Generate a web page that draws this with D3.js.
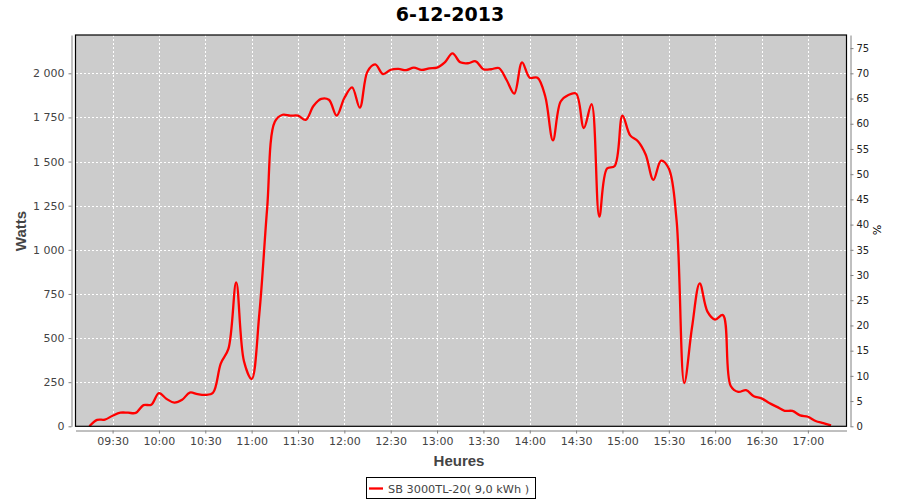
<!DOCTYPE html>
<html>
<head>
<meta charset="utf-8">
<script src="https://cdn.jsdelivr.net/npm/d3@7/dist/d3.min.js"></script>
<style>
  body { margin: 0; background: #ffffff; }
  svg { display: block; }
</style>
</head>
<body>
<svg id="chart" width="900" height="500"></svg>
<script>
// ---- data ----
const chartTitle = "6-12-2013";
const seriesName = "SB 3000TL-20( 9,0 kWh )";
const times = ["09:15","09:20","09:25","09:30","09:35","09:40","09:45","09:50","09:55",
  "10:00","10:05","10:10","10:15","10:20","10:25","10:30","10:35","10:40","10:45","10:50","10:55",
  "11:00","11:05","11:10","11:15","11:20","11:25","11:30","11:35","11:40","11:45","11:50","11:55",
  "12:00","12:05","12:10","12:15","12:20","12:25","12:30","12:35","12:40","12:45","12:50","12:55",
  "13:00","13:05","13:10","13:15","13:20","13:25","13:30","13:35","13:40","13:45","13:50","13:55",
  "14:00","14:05","14:10","14:15","14:20","14:25","14:30","14:35","14:40","14:45","14:50","14:55",
  "15:00","15:05","15:10","15:15","15:20","15:25","15:30","15:35","15:40","15:45","15:50","15:55",
  "16:00","16:05","16:10","16:15","16:20","16:25","16:30","16:35","16:40","16:45","16:50","16:55",
  "17:00","17:05","17:10","17:15"];
const watts = [0,36,38,60,77,77,76,120,122,
  188,155,134,150,191,182,178,190,355,440,815,370,
  268,640,1230,1725,1765,1760,1760,1736,1815,1855,1850,1760,
  1860,1920,1805,2010,2050,1996,2020,2025,2018,2032,2019,2028,
  2032,2062,2113,2062,2057,2068,2023,2023,2030,1962,1885,2062,
  1975,1975,1870,1620,1840,1877,1885,1690,1825,1188,1460,1475,
  1760,1648,1615,1540,1396,1505,1460,1170,245,560,810,650,
  605,630,230,195,205,170,158,132,110,88,87,62,
  54,30,18,5];
const xTickLabels = ["09:30","10:00","10:30","11:00","11:30","12:00","12:30","13:00",
  "13:30","14:00","14:30","15:00","15:30","16:00","16:30","17:00"];
const wattTicks = [0,250,500,750,1000,1250,1500,1750,2000];
const wattTickLabels = ["0","250","500","750","1 000","1 250","1 500","1 750","2 000"];
const pctTicks = [0,5,10,15,20,25,30,35,40,45,50,55,60,65,70,75];
const xDomain = ["09:06","17:25"];
const wattMax = 2217;
const pctMax = 77.6;

// ---- helpers ----
const toMin = s => { const [h, m] = s.split(":").map(Number); return h * 60 + m; };

const svg = d3.select("#chart");
const L = 75.5, R = 846.5, T = 35, B = 426.3;

const x = d3.scaleLinear().domain(xDomain.map(toMin)).range([L, R]);
const y = d3.scaleLinear().domain([0, wattMax]).range([B, T]);
const y2 = d3.scaleLinear().domain([0, pctMax]).range([B, T]);

const tickFont = "DejaVu Sans, sans-serif";
const labelFont = "Liberation Sans, Arial, sans-serif";

// plot background
svg.append("rect").attr("x", L).attr("y", T).attr("width", R - L).attr("height", B - T)
  .attr("fill", "#cccccc");

// grid
const grid = svg.append("g").attr("stroke", "#ffffff").attr("stroke-width", 1)
  .attr("stroke-dasharray", "2,2").attr("shape-rendering", "crispEdges");
grid.selectAll("line.v").data(xTickLabels).join("line")
  .attr("x1", d => Math.round(x(toMin(d))) + 0.5).attr("x2", d => Math.round(x(toMin(d))) + 0.5)
  .attr("y1", T).attr("y2", B);
grid.selectAll("line.h").data(wattTicks.filter(d => d > 0)).join("line")
  .attr("y1", d => Math.round(y(d)) + 0.5).attr("y2", d => Math.round(y(d)) + 0.5)
  .attr("x1", L).attr("x2", R);

// series
const line = d3.line()
  .x((d, i) => x(toMin(times[i])))
  .y(d => y(d))
  .curve(d3.curveCatmullRom.alpha(0.5));
svg.append("path").datum(watts).attr("d", line)
  .attr("fill", "none").attr("stroke", "#ff0000").attr("stroke-width", 2.3)
  .attr("stroke-linejoin", "round");

// plot border
svg.append("rect").attr("x", L).attr("y", T).attr("width", R - L).attr("height", B - T)
  .attr("fill", "none").attr("stroke", "#000000").attr("stroke-width", 1.2);

// left axis
const yAxis = d3.axisLeft(y).tickValues(wattTicks)
  .tickFormat((d, i) => wattTickLabels[i]).tickSizeInner(3).tickSizeOuter(0).tickPadding(4);
const gy = svg.append("g").attr("transform", "translate(71.5,0)").call(yAxis);
// bottom axis
const xAxis = d3.axisBottom(x).tickValues(xTickLabels.map(toMin))
  .tickFormat((d, i) => xTickLabels[i]).tickSizeInner(3).tickSizeOuter(0).tickPadding(4);
const gx = svg.append("g").attr("transform", "translate(0,430.5)").call(xAxis);
// right axis
const y2Axis = d3.axisRight(y2).tickValues(pctTicks).tickFormat(d3.format("d"))
  .tickSizeInner(3).tickSizeOuter(0).tickPadding(3);
const gy2 = svg.append("g").attr("transform", "translate(850.5,0)").call(y2Axis);

[gy, gx, gy2].forEach(g => {
  g.select(".domain").attr("stroke", "#808080");
  g.selectAll(".tick line").attr("stroke", "#808080");
  g.selectAll(".tick text").attr("fill", "#444444")
    .style("font-family", tickFont).style("font-size", "11px");
});
gy2.selectAll(".tick text").style("font-size", "10px").attr("fill", "#222222");

// title
svg.append("text").attr("x", 450).attr("y", 21).attr("text-anchor", "middle")
  .style("font-family", tickFont).style("font-weight", "bold").style("font-size", "19px")
  .attr("fill", "#000000").text(chartTitle);

// axis labels
svg.append("text").attr("transform", "translate(26,231) rotate(-90)").attr("text-anchor", "middle")
  .style("font-family", labelFont).style("font-weight", "bold").style("font-size", "15px")
  .attr("fill", "#444444").text("Watts");
svg.append("text").attr("x", 459).attr("y", 466).attr("text-anchor", "middle")
  .style("font-family", labelFont).style("font-weight", "bold").style("font-size", "15px")
  .attr("fill", "#444444").text("Heures");
svg.append("text").attr("transform", "translate(877,230) rotate(90)").attr("text-anchor", "middle")
  .attr("dy", "0.35em")
  .style("font-family", tickFont).style("font-size", "11px")
  .attr("fill", "#000000").text("%");

// legend
const lg = svg.append("g");
lg.append("rect").attr("x", 366.5).attr("y", 477.5).attr("width", 169).attr("height", 21)
  .attr("fill", "#ffffff").attr("stroke", "#000000").attr("stroke-width", 1);
lg.append("line").attr("x1", 369).attr("x2", 383).attr("y1", 488.5).attr("y2", 488.5)
  .attr("stroke", "#ff0000").attr("stroke-width", 2.3);
lg.append("text").attr("x", 388).attr("y", 492.5)
  .style("font-family", tickFont).style("font-size", "11.3px")
  .attr("fill", "#444444").text(seriesName);
</script>
</body>
</html>
